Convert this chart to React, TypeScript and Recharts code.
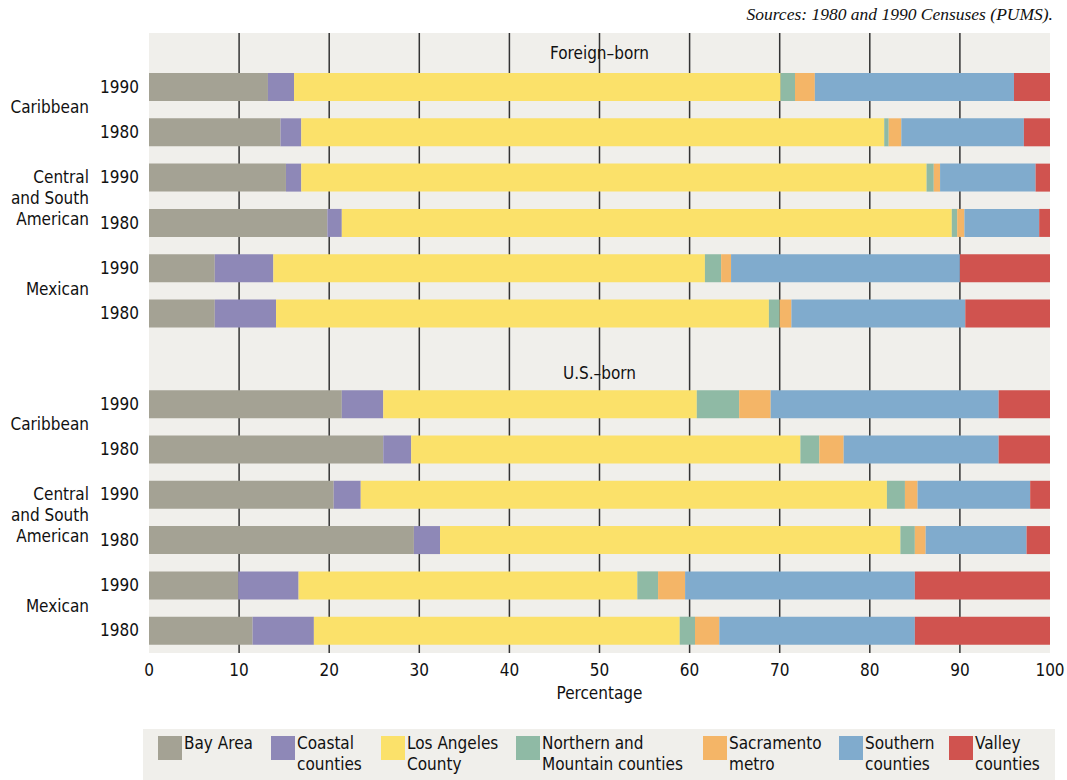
import React from "react";
import { BarChart, Bar, XAxis, YAxis, CartesianGrid } from "recharts";

const FONT = "'DejaVu Sans Condensed', 'DejaVu Sans', sans-serif";

// rows, top to bottom (a blank row separates the two panels)
const rowKeys = [
  "fb-car-1990", "fb-car-1980", "fb-csa-1990", "fb-csa-1980", "fb-mex-1990", "fb-mex-1980",
  "gap",
  "us-car-1990", "us-car-1980", "us-csa-1990", "us-csa-1980", "us-mex-1990", "us-mex-1980",
];
const rowYears = ["1990", "1980", "1990", "1980", "1990", "1980", "", "1990", "1980", "1990", "1980", "1990", "1980"];
const groupLabels: (string[] | null)[] = [
  ["Caribbean"], null, ["Central", "and South", "American"], null, ["Mexican"], null,
  null,
  ["Caribbean"], null, ["Central", "and South", "American"], null, ["Mexican"], null,
];
const panelTitles = ["Foreign\u2013born", "U.S.\u2013born"];

// percentages per region
const bayArea = [13.2, 14.6, 15.2, 19.8, 7.3, 7.3, null, 21.4, 26.0, 20.5, 29.4, 9.9, 11.5];
const coastal = [2.9, 2.3, 1.7, 1.6, 6.5, 6.8, null, 4.6, 3.1, 3.0, 2.9, 6.7, 6.8];
const losAngeles = [54.0, 64.7, 69.4, 67.7, 47.9, 54.7, null, 34.8, 43.2, 58.4, 51.1, 37.6, 40.6];
const northern = [1.6, 0.5, 0.8, 0.6, 1.8, 1.2, null, 4.7, 2.1, 2.0, 1.6, 2.3, 1.7];
const sacramento = [2.2, 1.4, 0.7, 0.8, 1.1, 1.3, null, 3.5, 2.7, 1.4, 1.2, 3.0, 2.7];
const southern = [22.1, 13.6, 10.6, 8.3, 25.4, 19.3, null, 25.3, 17.2, 12.5, 11.2, 25.5, 21.7];
const valley = [4.0, 2.9, 1.6, 1.2, 10.0, 9.4, null, 5.7, 5.7, 2.2, 2.6, 15.0, 15.0];

const xTicks = [0, 10, 20, 30, 40, 50, 60, 70, 80, 90, 100];
const gridTicks = [10, 20, 30, 40, 50, 60, 70, 80, 90];

const series = [
  { key: "bayArea", values: bayArea, color: "#a4a294", label: ["Bay Area"] },
  { key: "coastal", values: coastal, color: "#8e88b7", label: ["Coastal", "counties"] },
  { key: "losAngeles", values: losAngeles, color: "#fbe16a", label: ["Los Angeles", "County"] },
  { key: "northern", values: northern, color: "#8fbaa5", label: ["Northern and", "Mountain counties"] },
  { key: "sacramento", values: sacramento, color: "#f4b567", label: ["Sacramento", "metro"] },
  { key: "southern", values: southern, color: "#80abcd", label: ["Southern", "counties"] },
  { key: "valley", values: valley, color: "#d0534f", label: ["Valley", "counties"] },
];

const data = rowKeys.map((row, i) => {
  const d: Record<string, any> = { row };
  series.forEach((s) => {
    d[s.key] = s.values[i];
  });
  return d;
});

const legendWidths = [113, 110, 135, 187, 136, 110, 100];
const ROW_PITCH = 45.2;

const YearTick = (props: any) => {
  const { x, y, payload } = props;
  const i = rowKeys.indexOf(payload.value);
  const group = groupLabels[i];
  return (
    <g>
      <text x={x - 2} y={y} dy="0.355em" textAnchor="end" fontSize={17} fontFamily={FONT} fill="#111">
        {rowYears[i]}
      </text>
      {group && (
        <text x={89} y={y + ROW_PITCH / 2 - ((group.length - 1) * 21) / 2 - 2} textAnchor="end" fontSize={17} fontFamily={FONT} fill="#111">
          {group.map((line, k) => (
            <tspan key={k} x={89} dy={k === 0 ? "0.355em" : 21}>
              {line}
            </tspan>
          ))}
        </text>
      )}
    </g>
  );
};

// vertical grid lines at 10..90 across the plot area
const gridX = (props: any) => {
  const { xAxis, offset } = props;
  if (xAxis && typeof xAxis.scale === "function") return gridTicks.map((t) => xAxis.scale(t));
  return gridTicks.map((t) => offset.left + (t / 100) * offset.width);
};

const App: React.FC = () => {
  return (
    <div style={{ position: "absolute", left: 0, top: 0, width: 1067, height: 780, background: "#fff", fontFamily: FONT }}>
      <div
        style={{
          position: "absolute",
          right: 14,
          top: 4,
          fontFamily: "'Liberation Serif', serif",
          fontStyle: "italic",
          fontSize: 17.5,
          color: "#111",
        }}
      >
        Sources: 1980 and 1990 Censuses (PUMS).
      </div>
      <BarChart
        width={1067}
        height={713}
        data={data}
        layout="vertical"
        barSize={28}
        margin={{ top: 33, right: 17, left: 0, bottom: 0 }}
      >
        <CartesianGrid
          horizontal={false}
          fill="#f0efeb"
          stroke="#333"
          strokeWidth={1.5}
          verticalCoordinatesGenerator={gridX}
        />
        <XAxis
          type="number"
          domain={[0, 100]}
          ticks={xTicks}
          axisLine={false}
          tickLine={false}
          tickSize={6}
          tickMargin={5}
          height={60}
          tick={{ fontSize: 17, fill: "#111", fontFamily: FONT }}
          label={{ value: "Percentage", position: "insideBottom", offset: 14, fontSize: 17, fill: "#111", fontFamily: FONT }}
        />
        <YAxis
          type="category"
          dataKey="row"
          width={149}
          axisLine={false}
          tickLine={false}
          padding={{ top: 31, bottom: 0 }}
          interval={0}
          tick={<YearTick />}
        />
        {series.map((s) => (
          <Bar key={s.key} dataKey={s.key} stackId="a" fill={s.color} isAnimationActive={false} />
        ))}
      </BarChart>
      <div style={{ position: "absolute", left: 149, width: 901, top: 43, textAlign: "center", fontSize: 17, color: "#111" }}>
        {panelTitles[0]}
      </div>
      <div style={{ position: "absolute", left: 149, width: 901, top: 363, textAlign: "center", fontSize: 17, color: "#111" }}>
        {panelTitles[1]}
      </div>
      <div
        style={{
          position: "absolute",
          left: 143,
          top: 729,
          width: 912,
          height: 51,
          background: "#f0efeb",
          display: "flex",
          paddingLeft: 15,
          boxSizing: "border-box",
        }}
      >
        {series.map((s, i) => (
          <div key={s.key} style={{ width: legendWidths[i], display: "flex", alignItems: "flex-start", paddingTop: 7 }}>
            <div style={{ width: 24, height: 24, background: s.color, flex: "none" }} />
            <div style={{ marginLeft: 2, marginTop: -3, fontSize: 17, lineHeight: "21px", color: "#111", whiteSpace: "nowrap" }}>
              {s.label.map((l, k) => (
                <div key={k}>{l}</div>
              ))}
            </div>
          </div>
        ))}
      </div>
    </div>
  );
};

export default App;
